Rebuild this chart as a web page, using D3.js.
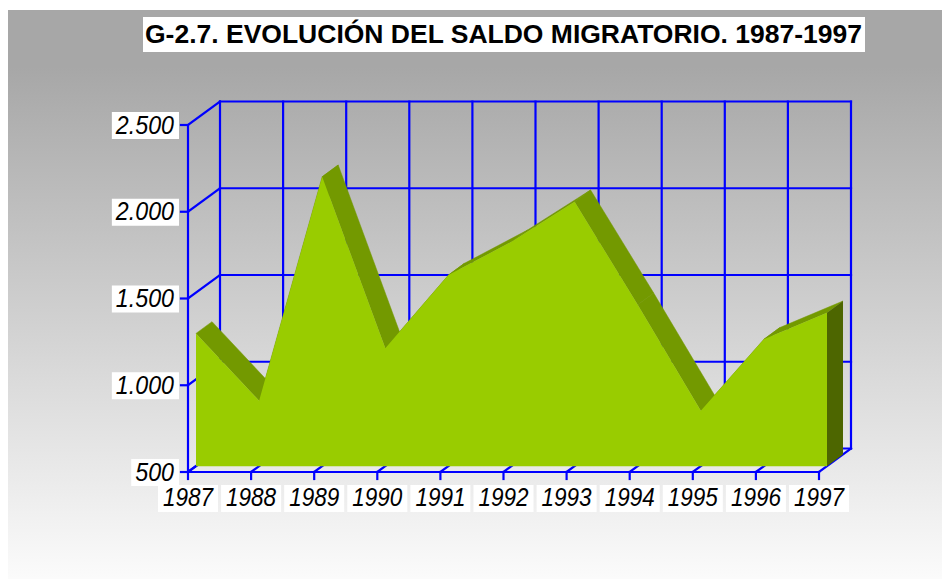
<!DOCTYPE html>
<html>
<meta charset="utf-8" />
<title>Saldo migratorio 1987-1997</title>
<head>
    <script src="https://d3js.org/d3.v7.min.js"></script>
    <style>
        body { margin: 0; background: #fff; }
        text { font-family: "Liberation Sans", Arial, sans-serif; }
    </style>
</head>
<body>
    <div id="chart"></div>

    <script type="text/javascript">
        // data
        var years = ["1987", "1988", "1989", "1990", "1991", "1992", "1993", "1994", "1995", "1996", "1997"];
        var saldo = [1265, 877, 2168, 1179, 1601, 1793, 2024, 1430, 819, 1231, 1384];
        var yTicks = [500, 1000, 1500, 2000, 2500];
        var yTickLabels = ["500", "1.000", "1.500", "2.000", "2.500"];
        var title = "G-2.7. EVOLUCIÓN DEL SALDO MIGRATORIO. 1987-1997";

        const width = 942, height = 579;
        const depthX = 32, depthY = -23.5;   // full depth of the box
        const z0 = 0.25, z1 = 0.75;          // where the area sits inside the depth
        const blue = "#0000ff", lw = 2.2;

        var x = d3.scalePoint().domain(years).range([188, 819]);
        var y = d3.scaleLinear().domain([500, 2500]).range([472, 125]);

        var svg = d3.select("#chart").append("svg")
            .attr("width", width)
            .attr("height", height);

        var grad = svg.append("defs").append("linearGradient")
            .attr("id", "bg")
            .attr("x1", 0).attr("y1", 0).attr("x2", 0).attr("y2", 1);
        grad.append("stop").attr("offset", "0%").attr("stop-color", "#a7a7a7");
        grad.append("stop").attr("offset", "10%").attr("stop-color", "#a7a7a7");
        grad.append("stop").attr("offset", "100%").attr("stop-color", "#fbfbfb");

        svg.append("rect")
            .attr("x", 8).attr("y", 10)
            .attr("width", width - 8).attr("height", height - 10)
            .attr("fill", "url(#bg)");

        // grid of the 3d box
        var grid = svg.append("g")
            .attr("stroke", blue)
            .attr("stroke-width", lw)
            .attr("fill", "none")
            .attr("stroke-linecap", "square");

        var x0 = x(years[0]), xN = x(years[years.length - 1]);

        // back wall horizontals
        grid.selectAll(".bh").data(yTicks).enter().append("line")
            .attr("x1", x0 + depthX).attr("x2", xN + depthX)
            .attr("y1", d => y(d) + depthY).attr("y2", d => y(d) + depthY);
        // back wall verticals
        grid.selectAll(".bv").data(years).enter().append("line")
            .attr("x1", d => x(d) + depthX).attr("x2", d => x(d) + depthX)
            .attr("y1", y(2500) + depthY).attr("y2", y(500) + depthY);
        // left wall diagonals
        grid.selectAll(".lw").data(yTicks).enter().append("line")
            .attr("x1", x0).attr("y1", d => y(d))
            .attr("x2", x0 + depthX).attr("y2", d => y(d) + depthY);
        // floor diagonals
        grid.selectAll(".fl").data(years).enter().append("line")
            .attr("x1", d => x(d)).attr("y1", y(500))
            .attr("x2", d => x(d) + depthX).attr("y2", y(500) + depthY);
        // front axes
        grid.append("line")
            .attr("x1", x0).attr("x2", x0)
            .attr("y1", y(2500)).attr("y2", y(500));
        grid.append("line")
            .attr("x1", x0).attr("x2", xN)
            .attr("y1", y(500)).attr("y2", y(500));
        // tick marks
        grid.selectAll(".yt").data(yTicks).enter().append("line")
            .attr("x1", x0 - 7).attr("x2", x0)
            .attr("y1", d => y(d)).attr("y2", d => y(d));
        grid.selectAll(".xt").data(years).enter().append("line")
            .attr("x1", d => x(d)).attr("x2", d => x(d))
            .attr("y1", y(500)).attr("y2", y(500) + 7);

        // 3d area
        var front = years.map((d, i) => [x(d) + depthX * z0, y(saldo[i]) + depthY * z0]);
        var base = y(500) + depthY * z0;
        var dx = depthX * (z1 - z0), dy = depthY * (z1 - z0);
        var area = svg.append("g");

        var tops = d3.pairs(front).map(p => [
            p[0], p[1], [p[1][0] + dx, p[1][1] + dy], [p[0][0] + dx, p[0][1] + dy]
        ]);
        area.selectAll(".top").data(tops).enter().append("polygon")
            .attr("points", d => d.join(" "))
            .attr("fill", "#739900")
            .attr("stroke", "#739900")
            .attr("stroke-width", 0.5);

        var last = front[front.length - 1];
        area.append("polygon")
            .attr("points", [last, [last[0] + dx, last[1] + dy], [last[0] + dx, base + dy], [last[0], base]].join(" "))
            .attr("fill", "#4d6600");

        var frontPoly = front.concat([[last[0], base], [front[0][0], base]]);
        area.append("polygon")
            .attr("points", frontPoly.join(" "))
            .attr("fill", "#99cc00");

        // y labels on white boxes
        var yl = svg.selectAll(".ylab").data(yTicks).enter().append("g");
        yl.append("rect").attr("fill", "#fff");
        yl.append("text")
            .attr("transform", d => "translate(174," + (y(d) + 8.5) + ") scale(0.93,1)")
            .attr("text-anchor", "end")
            .attr("font-size", 25)
            .attr("font-style", "italic")
            .attr("fill", "#000")
            .text((d, i) => yTickLabels[i]);
        yl.each(function(d) {
            var w = d3.select(this).select("text").node().getComputedTextLength() * 0.93;
            d3.select(this).select("rect")
                .attr("x", 174 - w - 4).attr("width", w + 9)
                .attr("y", y(d) - 13).attr("height", 27);
        });

        // x labels: boxes first, then texts, so a box never hides its neighbour
        var xBoxes = svg.append("g");
        var xTexts = svg.append("g");
        xTexts.selectAll("text").data(years).enter().append("text")
            .attr("transform", d => "translate(" + x(d) + ",506) scale(0.9,1)")
            .attr("text-anchor", "middle")
            .attr("font-size", 25)
            .attr("font-style", "italic")
            .attr("fill", "#000")
            .text(d => d);
        xTexts.selectAll("text").each(function(d) {
            var w = this.getComputedTextLength() * 0.9;
            xBoxes.append("rect")
                .attr("x", x(d) - w / 2 - 5).attr("width", w + 10)
                .attr("y", 485).attr("height", 27)
                .attr("fill", "#fff");
        });

        // title
        svg.append("rect")
            .attr("x", 143).attr("y", 17)
            .attr("width", 722).attr("height", 35)
            .attr("fill", "#fff");
        svg.append("text")
            .attr("x", 145).attr("y", 43)
            .attr("font-size", 25)
            .attr("font-weight", "bold")
            .attr("textLength", 717)
            .attr("lengthAdjust", "spacingAndGlyphs")
            .attr("fill", "#000")
            .text(title);
    </script>
</body>
</html>
